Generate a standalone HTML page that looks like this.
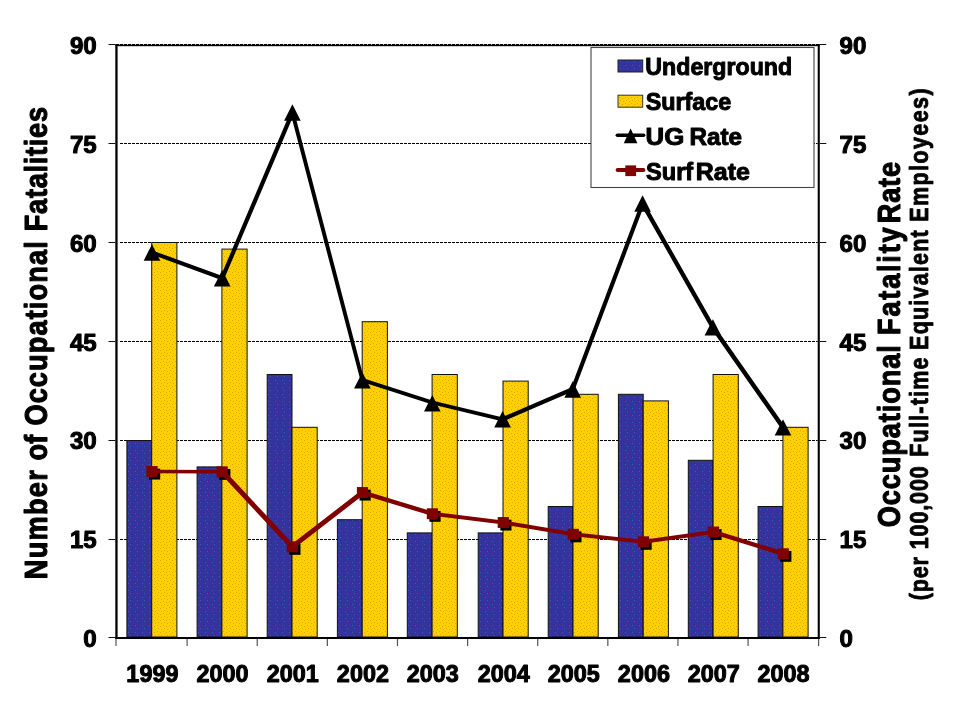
<!DOCTYPE html>
<html><head><meta charset="utf-8"><style>
html,body{margin:0;padding:0;background:#fff;width:960px;height:720px;overflow:hidden}
svg{display:block;will-change:transform}
text{font-family:"Liberation Sans",sans-serif;font-weight:bold;fill:#000;stroke:#000;stroke-width:1.0px;stroke-linejoin:round}
</style></head><body>
<svg width="960" height="720" viewBox="0 0 960 720">
<defs>
<pattern id="pb" x="0" y="0" width="7" height="7" patternUnits="userSpaceOnUse">
<rect width="7" height="7" fill="#3333a2"/>
<rect x="1" y="1" width="1" height="1" fill="#5a1a78"/><rect x="2" y="2" width="1" height="1" fill="#2f6a8c"/>
<rect x="5" y="4" width="1" height="1" fill="#5a1a78"/><rect x="4" y="5" width="1" height="1" fill="#2f6a8c"/>
</pattern>
<pattern id="py" x="0" y="0" width="6" height="6" patternUnits="userSpaceOnUse">
<rect width="6" height="6" fill="#ffd000"/>
<rect x="1" y="1" width="1" height="1" fill="#dcaa00"/><rect x="4" y="2" width="1" height="1" fill="#dcaa00"/>
<rect x="2" y="4" width="1" height="1" fill="#dcaa00"/><rect x="5" y="5" width="1" height="1" fill="#dcaa00"/>
</pattern>
</defs>
<rect width="960" height="720" fill="#fff"/>
<line x1="120" y1="539.5" x2="817.7" y2="539.5" stroke="#000" stroke-width="1" stroke-dasharray="3 1"/>
<line x1="120" y1="440.5" x2="817.7" y2="440.5" stroke="#000" stroke-width="1" stroke-dasharray="3 1"/>
<line x1="120" y1="341.5" x2="817.7" y2="341.5" stroke="#000" stroke-width="1" stroke-dasharray="3 1"/>
<line x1="120" y1="242.5" x2="817.7" y2="242.5" stroke="#000" stroke-width="1" stroke-dasharray="3 1"/>
<line x1="120" y1="143.5" x2="817.7" y2="143.5" stroke="#000" stroke-width="1" stroke-dasharray="3 1"/>
<line x1="116" y1="44.5" x2="819.8" y2="44.5" stroke="#aaa" stroke-width="1"/>
<line x1="117.6" y1="46.5" x2="817.7" y2="46.5" stroke="#ccc" stroke-width="1"/>
<line x1="116" y1="44.5" x2="819.8" y2="44.5" stroke="#000" stroke-width="1" stroke-dasharray="3 1"/>
<line x1="115.3" y1="45.5" x2="819.8" y2="45.5" stroke="#000" stroke-width="1"/>
<rect x="126.90" y="440.50" width="24.8" height="196.50" fill="url(#pb)" stroke="#111" stroke-width="1"/>
<rect x="151.70" y="242.50" width="25.2" height="394.50" fill="url(#py)" stroke="#111" stroke-width="1"/>
<rect x="197.10" y="466.90" width="24.8" height="170.10" fill="url(#pb)" stroke="#111" stroke-width="1"/>
<rect x="221.90" y="249.10" width="25.2" height="387.90" fill="url(#py)" stroke="#111" stroke-width="1"/>
<rect x="267.20" y="374.50" width="24.8" height="262.50" fill="url(#pb)" stroke="#111" stroke-width="1"/>
<rect x="292.00" y="427.30" width="25.2" height="209.70" fill="url(#py)" stroke="#111" stroke-width="1"/>
<rect x="337.40" y="519.70" width="24.8" height="117.30" fill="url(#pb)" stroke="#111" stroke-width="1"/>
<rect x="362.20" y="321.70" width="25.2" height="315.30" fill="url(#py)" stroke="#111" stroke-width="1"/>
<rect x="407.30" y="532.90" width="24.8" height="104.10" fill="url(#pb)" stroke="#111" stroke-width="1"/>
<rect x="432.10" y="374.50" width="25.2" height="262.50" fill="url(#py)" stroke="#111" stroke-width="1"/>
<rect x="478.20" y="532.90" width="24.8" height="104.10" fill="url(#pb)" stroke="#111" stroke-width="1"/>
<rect x="503.00" y="381.10" width="25.2" height="255.90" fill="url(#py)" stroke="#111" stroke-width="1"/>
<rect x="548.20" y="506.50" width="24.8" height="130.50" fill="url(#pb)" stroke="#111" stroke-width="1"/>
<rect x="573.00" y="394.30" width="25.2" height="242.70" fill="url(#py)" stroke="#111" stroke-width="1"/>
<rect x="618.40" y="394.30" width="24.8" height="242.70" fill="url(#pb)" stroke="#111" stroke-width="1"/>
<rect x="643.20" y="400.90" width="25.2" height="236.10" fill="url(#py)" stroke="#111" stroke-width="1"/>
<rect x="688.30" y="460.30" width="24.8" height="176.70" fill="url(#pb)" stroke="#111" stroke-width="1"/>
<rect x="713.10" y="374.50" width="25.2" height="262.50" fill="url(#py)" stroke="#111" stroke-width="1"/>
<rect x="758.10" y="506.50" width="24.8" height="130.50" fill="url(#pb)" stroke="#111" stroke-width="1"/>
<rect x="782.90" y="427.30" width="25.2" height="209.70" fill="url(#py)" stroke="#111" stroke-width="1"/>
<rect x="115.3" y="44" width="2.299999999999997" height="595" fill="#000"/>
<rect x="817.7" y="44" width="2.099999999999909" height="595" fill="#000"/>
<rect x="115.3" y="637" width="704.5" height="2" fill="#000"/>
<line x1="108.5" y1="637.5" x2="115.3" y2="637.5" stroke="#111" stroke-width="1"/>
<line x1="819.8" y1="637.5" x2="826.3" y2="637.5" stroke="#111" stroke-width="1"/>
<line x1="108.5" y1="539.5" x2="115.3" y2="539.5" stroke="#111" stroke-width="1"/>
<line x1="819.8" y1="539.5" x2="826.3" y2="539.5" stroke="#111" stroke-width="1"/>
<line x1="108.5" y1="440.5" x2="115.3" y2="440.5" stroke="#111" stroke-width="1"/>
<line x1="819.8" y1="440.5" x2="826.3" y2="440.5" stroke="#111" stroke-width="1"/>
<line x1="108.5" y1="341.5" x2="115.3" y2="341.5" stroke="#111" stroke-width="1"/>
<line x1="819.8" y1="341.5" x2="826.3" y2="341.5" stroke="#111" stroke-width="1"/>
<line x1="108.5" y1="242.5" x2="115.3" y2="242.5" stroke="#111" stroke-width="1"/>
<line x1="819.8" y1="242.5" x2="826.3" y2="242.5" stroke="#111" stroke-width="1"/>
<line x1="108.5" y1="143.5" x2="115.3" y2="143.5" stroke="#111" stroke-width="1"/>
<line x1="819.8" y1="143.5" x2="826.3" y2="143.5" stroke="#111" stroke-width="1"/>
<line x1="108.5" y1="44.5" x2="115.3" y2="44.5" stroke="#111" stroke-width="1"/>
<line x1="819.8" y1="44.5" x2="826.3" y2="44.5" stroke="#111" stroke-width="1"/>
<line x1="116.00" y1="639" x2="116.00" y2="646" stroke="#555" stroke-width="1.2"/>
<line x1="187.12" y1="639" x2="187.12" y2="646" stroke="#555" stroke-width="1.2"/>
<line x1="257.24" y1="639" x2="257.24" y2="646" stroke="#555" stroke-width="1.2"/>
<line x1="327.36" y1="639" x2="327.36" y2="646" stroke="#555" stroke-width="1.2"/>
<line x1="397.48" y1="639" x2="397.48" y2="646" stroke="#555" stroke-width="1.2"/>
<line x1="467.60" y1="639" x2="467.60" y2="646" stroke="#555" stroke-width="1.2"/>
<line x1="537.72" y1="639" x2="537.72" y2="646" stroke="#555" stroke-width="1.2"/>
<line x1="607.84" y1="639" x2="607.84" y2="646" stroke="#555" stroke-width="1.2"/>
<line x1="677.96" y1="639" x2="677.96" y2="646" stroke="#555" stroke-width="1.2"/>
<line x1="748.08" y1="639" x2="748.08" y2="646" stroke="#555" stroke-width="1.2"/>
<line x1="818.60" y1="639" x2="818.60" y2="646" stroke="#555" stroke-width="1.2"/>
<path d="M150.40,250.90 L153.60,250.90 L223.80,276.60 L223.80,279.80 L220.60,279.80 L150.40,254.10Z M220.60,276.60 L290.80,111.00 L294.00,111.00 L294.00,114.20 L223.80,279.80 L220.60,279.80Z M290.80,111.00 L294.00,111.00 L363.95,378.40 L363.95,381.60 L360.75,381.60 L290.80,114.20Z M360.75,378.40 L363.95,378.40 L433.90,400.90 L433.90,404.10 L430.70,404.10 L360.75,381.60Z M430.70,400.90 L433.90,400.90 L504.15,417.70 L504.15,420.90 L500.95,420.90 L430.70,404.10Z M500.95,417.70 L571.10,387.60 L574.30,387.60 L574.30,390.80 L504.15,420.90 L500.95,420.90Z M571.10,387.60 L641.00,202.00 L644.20,202.00 L644.20,205.20 L574.30,390.80 L571.10,390.80Z M641.00,202.00 L644.20,202.00 L714.50,325.80 L714.50,329.00 L711.30,329.00 L641.00,205.20Z M711.30,325.80 L714.50,325.80 L784.60,425.80 L784.60,429.00 L781.40,429.00 L711.30,329.00Z" fill="#000"/>
<path d="M152.00,244.25 L160.30,260.70 L143.70,260.70Z" fill="#000"/>
<path d="M222.20,269.95 L230.50,286.40 L213.90,286.40Z" fill="#000"/>
<path d="M292.40,104.35 L300.70,120.80 L284.10,120.80Z" fill="#000"/>
<path d="M362.35,372.15 L370.65,388.60 L354.05,388.60Z" fill="#000"/>
<path d="M432.30,394.95 L440.60,411.40 L424.00,411.40Z" fill="#000"/>
<path d="M502.55,411.05 L510.85,427.50 L494.25,427.50Z" fill="#000"/>
<path d="M572.70,381.25 L581.00,397.70 L564.40,397.70Z" fill="#000"/>
<path d="M642.60,195.35 L650.90,211.80 L634.30,211.80Z" fill="#000"/>
<path d="M712.90,319.15 L721.20,335.60 L704.60,335.60Z" fill="#000"/>
<path d="M783.00,419.15 L791.30,435.60 L774.70,435.60Z" fill="#000"/>
<rect x="149.00" y="468.65" width="11.2" height="10.9" fill="#000"/>
<rect x="219.20" y="468.95" width="11.2" height="10.9" fill="#000"/>
<rect x="289.30" y="543.95" width="11.2" height="10.9" fill="#000"/>
<rect x="359.50" y="489.65" width="11.2" height="10.9" fill="#000"/>
<rect x="429.40" y="510.90" width="11.2" height="10.9" fill="#000"/>
<rect x="500.30" y="519.65" width="11.2" height="10.9" fill="#000"/>
<rect x="570.30" y="531.40" width="11.2" height="10.9" fill="#000"/>
<rect x="640.50" y="538.90" width="11.2" height="10.9" fill="#000"/>
<rect x="710.40" y="529.15" width="11.2" height="10.9" fill="#000"/>
<rect x="780.20" y="550.90" width="11.2" height="10.9" fill="#000"/>
<path d="M150.25,469.75 L153.75,469.75 L223.95,470.05 L223.95,473.55 L220.45,473.55 L150.25,473.25Z M220.45,470.05 L223.95,470.05 L294.05,545.05 L294.05,548.55 L290.55,548.55 L220.45,473.55Z M290.55,545.05 L360.75,490.75 L364.25,490.75 L364.25,494.25 L294.05,548.55 L290.55,548.55Z M360.75,490.75 L364.25,490.75 L434.15,512.00 L434.15,515.50 L430.65,515.50 L360.75,494.25Z M430.65,512.00 L434.15,512.00 L505.05,520.75 L505.05,524.25 L501.55,524.25 L430.65,515.50Z M501.55,520.75 L505.05,520.75 L575.05,532.50 L575.05,536.00 L571.55,536.00 L501.55,524.25Z M571.55,532.50 L575.05,532.50 L645.25,540.00 L645.25,543.50 L641.75,543.50 L571.55,536.00Z M641.75,540.00 L711.65,530.25 L715.15,530.25 L715.15,533.75 L645.25,543.50 L641.75,543.50Z M711.65,530.25 L715.15,530.25 L784.95,552.00 L784.95,555.50 L781.45,555.50 L711.65,533.75Z" fill="#800000"/>
<rect x="146.40" y="466.05" width="11.2" height="10.9" fill="#800000"/>
<rect x="216.60" y="466.35" width="11.2" height="10.9" fill="#800000"/>
<rect x="286.70" y="541.35" width="11.2" height="10.9" fill="#800000"/>
<rect x="356.90" y="487.05" width="11.2" height="10.9" fill="#800000"/>
<rect x="426.80" y="508.30" width="11.2" height="10.9" fill="#800000"/>
<rect x="497.70" y="517.05" width="11.2" height="10.9" fill="#800000"/>
<rect x="567.70" y="528.80" width="11.2" height="10.9" fill="#800000"/>
<rect x="637.90" y="536.30" width="11.2" height="10.9" fill="#800000"/>
<rect x="707.80" y="526.55" width="11.2" height="10.9" fill="#800000"/>
<rect x="777.60" y="548.30" width="11.2" height="10.9" fill="#800000"/>
<rect x="591" y="47.5" width="223" height="140" fill="#fff" stroke="#444" stroke-width="1.1"/>
<rect x="618" y="60" width="24.7" height="12" fill="url(#pb)" stroke="#222" stroke-width="1"/>
<rect x="618" y="95.2" width="24.7" height="12" fill="url(#py)" stroke="#333" stroke-width="1"/>
<line x1="617.4" y1="135.3" x2="643.6" y2="135.3" stroke="#000" stroke-width="3.6" stroke-linecap="round"/>
<path d="M630.6,128.4 L637.4,143.3 L623.8,143.3Z" fill="#000"/>
<line x1="617.6" y1="170" x2="643.4" y2="170" stroke="#800000" stroke-width="4" stroke-linecap="round"/>
<rect x="625.3" y="165.4" width="10.8" height="10.7" fill="#800000"/>
<text transform="translate(645.35,75.00) scale(0.9470,1)" font-size="24.5" text-anchor="start">Underground</text>
<text transform="translate(645.75,109.90) scale(0.9520,1)" font-size="24.5" text-anchor="start">Surface</text>
<text transform="translate(645.55,144.90) scale(1.0538,1)" font-size="24.5" text-anchor="start">UG</text>
<text transform="translate(689.52,144.90) scale(0.9903,1)" font-size="24.5" text-anchor="start">Rate</text>
<text transform="translate(646.04,179.80) scale(0.9634,1)" font-size="24.5" text-anchor="start">Surf</text>
<text transform="translate(695.78,179.80) scale(1.0179,1)" font-size="24.5" text-anchor="start">Rate</text>
<text transform="translate(96.75,647.40) scale(1.0450,1)" font-size="23.1" text-anchor="end">0</text>
<text transform="translate(839.55,647.40) scale(1.0450,1)" font-size="23.1" text-anchor="start">0</text>
<text transform="translate(96.75,548.10) scale(1.0450,1)" font-size="23.1" text-anchor="end">15</text>
<text transform="translate(839.55,548.10) scale(1.0450,1)" font-size="23.1" text-anchor="start">15</text>
<text transform="translate(96.75,449.10) scale(1.0450,1)" font-size="23.1" text-anchor="end">30</text>
<text transform="translate(839.55,449.10) scale(1.0450,1)" font-size="23.1" text-anchor="start">30</text>
<text transform="translate(96.75,350.80) scale(1.0450,1)" font-size="23.1" text-anchor="end">45</text>
<text transform="translate(839.55,350.80) scale(1.0450,1)" font-size="23.1" text-anchor="start">45</text>
<text transform="translate(96.75,251.80) scale(1.0450,1)" font-size="23.1" text-anchor="end">60</text>
<text transform="translate(839.55,251.80) scale(1.0450,1)" font-size="23.1" text-anchor="start">60</text>
<text transform="translate(96.75,152.80) scale(1.0450,1)" font-size="23.1" text-anchor="end">75</text>
<text transform="translate(839.55,152.80) scale(1.0450,1)" font-size="23.1" text-anchor="start">75</text>
<text transform="translate(96.75,53.80) scale(1.0450,1)" font-size="23.1" text-anchor="end">90</text>
<text transform="translate(839.55,53.80) scale(1.0450,1)" font-size="23.1" text-anchor="start">90</text>
<text transform="translate(152.40,681.60) scale(1.0130,1)" font-size="23.1" text-anchor="middle">1999</text>
<text transform="translate(222.60,681.60) scale(1.0130,1)" font-size="23.1" text-anchor="middle">2000</text>
<text transform="translate(292.70,681.60) scale(1.0130,1)" font-size="23.1" text-anchor="middle">2001</text>
<text transform="translate(362.90,681.60) scale(1.0130,1)" font-size="23.1" text-anchor="middle">2002</text>
<text transform="translate(432.80,681.60) scale(1.0130,1)" font-size="23.1" text-anchor="middle">2003</text>
<text transform="translate(503.70,681.60) scale(1.0130,1)" font-size="23.1" text-anchor="middle">2004</text>
<text transform="translate(573.70,681.60) scale(1.0130,1)" font-size="23.1" text-anchor="middle">2005</text>
<text transform="translate(643.90,681.60) scale(1.0130,1)" font-size="23.1" text-anchor="middle">2006</text>
<text transform="translate(713.80,681.60) scale(1.0130,1)" font-size="23.1" text-anchor="middle">2007</text>
<text transform="translate(783.60,681.60) scale(1.0130,1)" font-size="23.1" text-anchor="middle">2008</text>
<text transform="translate(46.6,579.27) scale(1.05,1) rotate(-90) scale(0.93,1)" font-size="29.2" style="letter-spacing:1.403px">Number</text>
<text transform="translate(46.6,460.59) scale(1.05,1) rotate(-90) scale(0.93,1)" font-size="29.2" style="letter-spacing:0.241px">of</text>
<text transform="translate(46.6,425.59) scale(1.05,1) rotate(-90) scale(0.93,1)" font-size="29.2" style="letter-spacing:1.201px">Occupational</text>
<text transform="translate(46.6,231.27) scale(1.05,1) rotate(-90) scale(0.93,1)" font-size="29.2" style="letter-spacing:0.792px">Fatalities</text>
<text transform="translate(899.7,527.29) scale(1.05,1) rotate(-90) scale(0.93,1)" font-size="29.2" style="letter-spacing:0.986px">Occupational</text>
<text transform="translate(899.7,334.97) scale(1.05,1) rotate(-90) scale(0.93,1)" font-size="29.2" style="letter-spacing:1.929px">Fatality</text>
<text transform="translate(899.7,223.17) scale(1.05,1) rotate(-90) scale(0.93,1)" font-size="29.2" style="letter-spacing:0.833px">Rate</text>
<text transform="translate(927.8,600.28) scale(1.07,1) rotate(-90) scale(0.9,1)" font-size="23.9" style="stroke-width:0.8px;letter-spacing:0.981px">(per 100,000</text>
<text transform="translate(927.8,456.80) scale(1.07,1) rotate(-90) scale(0.9,1)" font-size="23.9" style="stroke-width:0.8px;letter-spacing:1.356px">Full-time</text>
<text transform="translate(927.8,349.90) scale(1.07,1) rotate(-90) scale(0.9,1)" font-size="23.9" style="stroke-width:0.8px;letter-spacing:1.343px">Equivalent</text>
<text transform="translate(927.8,221.80) scale(1.07,1) rotate(-90) scale(0.9,1)" font-size="23.9" style="stroke-width:0.8px;letter-spacing:1.58px">Employees)</text>
</svg>
</body></html>
